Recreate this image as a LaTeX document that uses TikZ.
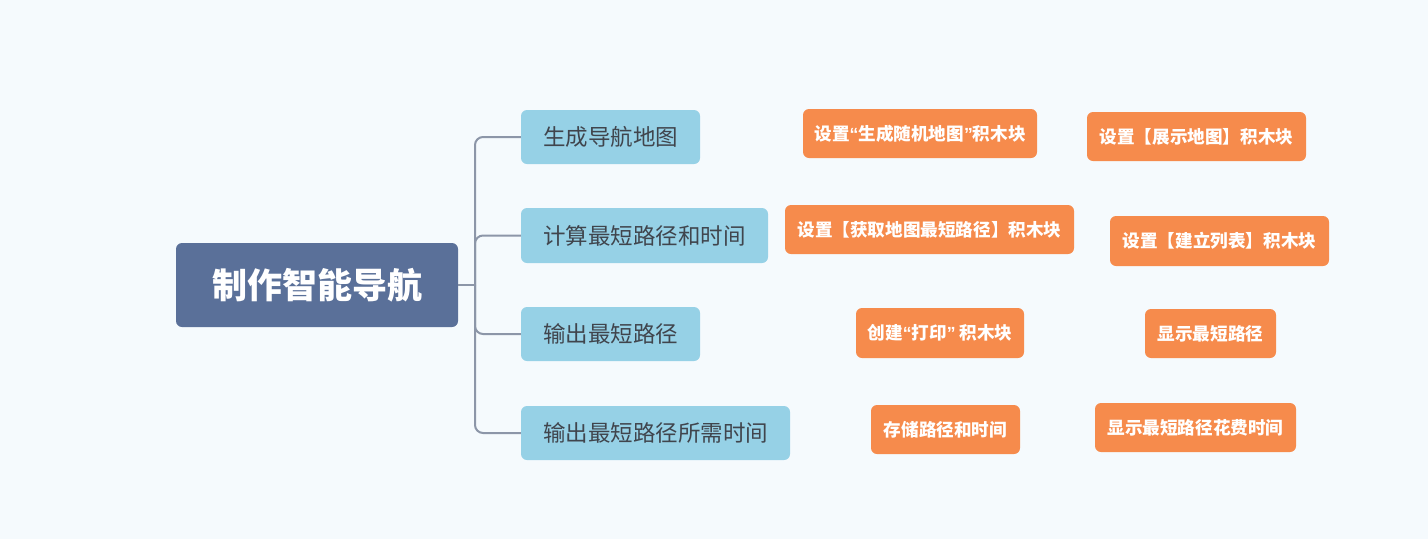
\documentclass[tikz,border=0pt]{standalone}
\usepackage{fontspec}
\setmainfont{Noto Sans CJK SC}
\newfontfamily\latq{Liberation Sans}
\newcommand{\myLq}{{\latq“}}
\newcommand{\myRq}{{\latq”}}
\definecolor{bgc}{HTML}{F5FAFD}
\definecolor{rootc}{HTML}{5A7099}
\definecolor{bluec}{HTML}{96D1E6}
\definecolor{orc}{HTML}{F68B4C}
\definecolor{linec}{HTML}{8C96A8}
\definecolor{txtc}{HTML}{40454D}
\begin{document}
\begin{tikzpicture}[x=1pt,y=-1pt,
  rootbox/.style={fill=rootc,rounded corners=6pt,text=white,font=\fontsize{35}{40}\selectfont\bfseries,inner sep=0pt},
  bluebox/.style={fill=bluec,rounded corners=6pt,text=txtc,font=\fontsize{22.5}{26}\selectfont,inner sep=0pt},
  orbox/.style={fill=orc,rounded corners=6pt,text=white,font=\fontsize{17.6}{21}\selectfont\bfseries,inner sep=0pt},
  conn/.style={draw=linec,line width=2pt,rounded corners=8pt}]
\fill[bgc] (0,0) rectangle (1428,539);
\useasboundingbox (0,0) rectangle (1428,539);
\node[rootbox,minimum width=282pt,minimum height=84pt] (root) at (317,285) {制作智能导航};
\node[bluebox,minimum width=179pt,minimum height=54pt] (b1) at (610.5,137) {生成导航地图};
\node[bluebox,minimum width=247pt,minimum height=55pt] (b2) at (644.5,235.5) {计算最短路径和时间};
\node[bluebox,minimum width=179pt,minimum height=54pt] (b3) at (610.5,334) {输出最短路径};
\node[bluebox,minimum width=269pt,minimum height=54pt] (b4) at (655.5,433) {输出最短路径所需时间};
\node[orbox,minimum width=234pt,minimum height=49pt] (o1) at (920,133.5) {设置\myLq 生成随机地图\myRq 积木块};
\node[orbox,minimum width=219pt,minimum height=49pt] (o2) at (1196.5,136.5) {设置【展示地图】积木块};
\node[orbox,minimum width=289pt,minimum height=49pt] (o3) at (929.5,229.5) {设置【获取地图最短路径】积木块};
\node[orbox,minimum width=219pt,minimum height=50pt] (o4) at (1219.5,241) {设置【建立列表】积木块};
\node[orbox,minimum width=168pt,minimum height=50pt] (o5) at (940,333) {创建\myLq 打印\myRq\ 积木块};
\node[orbox,minimum width=131pt,minimum height=49pt] (o6) at (1210.5,333.5) {显示最短路径};
\node[orbox,minimum width=149pt,minimum height=49pt] (o7) at (945.5,429.5) {存储路径和时间};
\node[orbox,minimum width=201pt,minimum height=49pt] (o8) at (1195.5,427.5) {显示最短路径花费时间};
\coordinate (j) at (475,285);
\draw[conn] (root.east) -- (j);
\draw[conn] (j) |- (b1.west);
\draw[conn] (j) |- (b2.west);
\draw[conn] (j) |- (b3.west);
\draw[conn] (j) |- (b4.west);
\end{tikzpicture}
\end{document}
